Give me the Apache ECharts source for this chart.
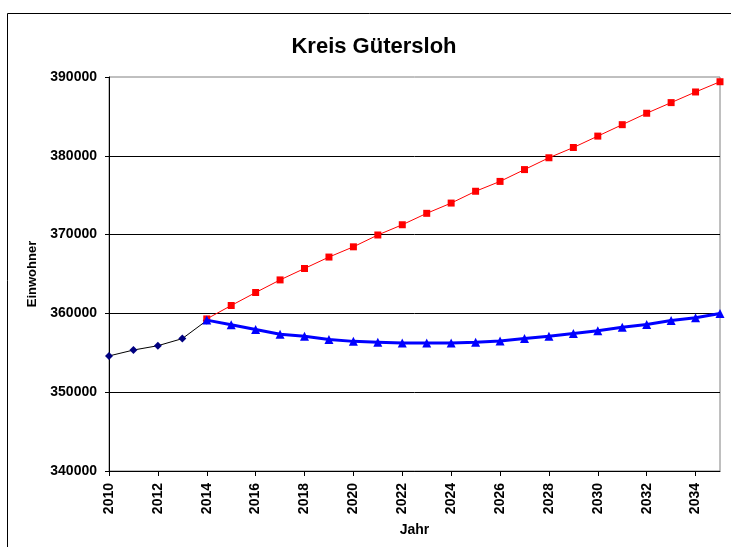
<!DOCTYPE html>
<html>
<head>
<meta charset="utf-8">
<title>Kreis Gütersloh</title>
<script src="https://cdn.jsdelivr.net/npm/echarts@6/dist/echarts.min.js"></script>
<style>
  html, body { margin: 0; padding: 0; background: #fff; }
  #main { width: 731px; height: 547px; }
</style>
</head>
<body>
<div id="main"></div>
<script>
// Daten
const yearsHist = [2010, 2011, 2012, 2013, 2014];
const valuesHist = [354600, 355350, 355900, 356800, 359100];

const yearsProg = [2014, 2015, 2016, 2017, 2018, 2019, 2020, 2021, 2022, 2023, 2024,
  2025, 2026, 2027, 2028, 2029, 2030, 2031, 2032, 2033, 2034, 2035];
const valuesRed = [359300, 361000, 362650, 364250, 365700, 367150, 368450, 369950, 371250,
  372700, 374000, 375500, 376750, 378250, 379750, 381050, 382500, 383950, 385400, 386750,
  388100, 389400];
const valuesBlue = [359150, 358550, 357950, 357350, 357100, 356700, 356450, 356350, 356250,
  356250, 356250, 356350, 356500, 356800, 357100, 357450, 357800, 358250, 358600, 359100,
  359450, 360000];

const pairs = (xs, ys) => xs.map((x, i) => [x, ys[i]]);

const chart = echarts.init(document.getElementById('main'));
const font = 'Liberation Sans, Arial, sans-serif';

chart.setOption({
  animation: false,
  title: {
    text: 'Kreis Gütersloh',
    left: 369,
    textAlign: 'center',
    top: 31,
    textStyle: { fontFamily: font, fontSize: 22, fontWeight: 'bold', color: '#000' }
  },
  graphic: [{
    type: 'rect',
    shape: { x: 7.5, y: 13.5, width: 760, height: 600 },
    style: { fill: 'none', stroke: '#000', lineWidth: 1 },
    silent: true
  }],
  grid: {
    left: 109, right: 11, top: 77, bottom: 76,
    show: true, borderColor: '#808080', borderWidth: 1
  },
  xAxis: {
    type: 'value',
    min: 2010, max: 2035, interval: 2,
    name: 'Jahr',
    nameLocation: 'middle',
    nameGap: 52,
    nameTextStyle: { fontFamily: font, fontSize: 14, fontWeight: 'bold', color: '#000' },
    axisLine: { lineStyle: { color: '#000', width: 1 } },
    axisTick: { show: true, length: 5, lineStyle: { color: '#000' } },
    axisLabel: {
      rotate: 90, margin: 12, showMaxLabel: false,
      fontFamily: font, fontSize: 14, fontWeight: 'bold', color: '#000',
      formatter: v => String(v)
    },
    splitLine: { show: false }
  },
  yAxis: {
    type: 'value',
    min: 340000, max: 390000, interval: 10000,
    name: 'Einwohner',
    nameLocation: 'middle',
    nameGap: 70,
    nameTextStyle: { fontFamily: font, fontSize: 13, fontWeight: 'bold', color: '#000' },
    axisLine: { show: true, lineStyle: { color: '#000', width: 1 } },
    axisTick: { show: true, length: 4, lineStyle: { color: '#000' } },
    axisLabel: {
      margin: 12,
      fontFamily: font, fontSize: 14, fontWeight: 'bold', color: '#000',
      formatter: v => String(v)
    },
    splitLine: { show: true, showMaxLine: false, lineStyle: { color: '#000', width: 1 } }
  },
  series: [
    {
      name: 'Bestand',
      type: 'line',
      data: pairs(yearsHist, valuesHist),
      symbol: 'diamond',
      symbolSize: 8,
      itemStyle: { color: '#000080' },
      lineStyle: { color: '#000', width: 1 },
      z: 3
    },
    {
      name: 'Prognose A',
      type: 'line',
      data: pairs(yearsProg, valuesRed),
      symbol: 'rect',
      symbolSize: 7,
      itemStyle: { color: '#ff0000' },
      lineStyle: { color: '#ff0000', width: 1 },
      z: 4
    },
    {
      name: 'Prognose B',
      type: 'line',
      data: pairs(yearsProg, valuesBlue),
      symbol: 'triangle',
      symbolSize: 9,
      itemStyle: { color: '#0000ff' },
      lineStyle: { color: '#0000ff', width: 3 },
      z: 5
    }
  ]
});
</script>
</body>
</html>
